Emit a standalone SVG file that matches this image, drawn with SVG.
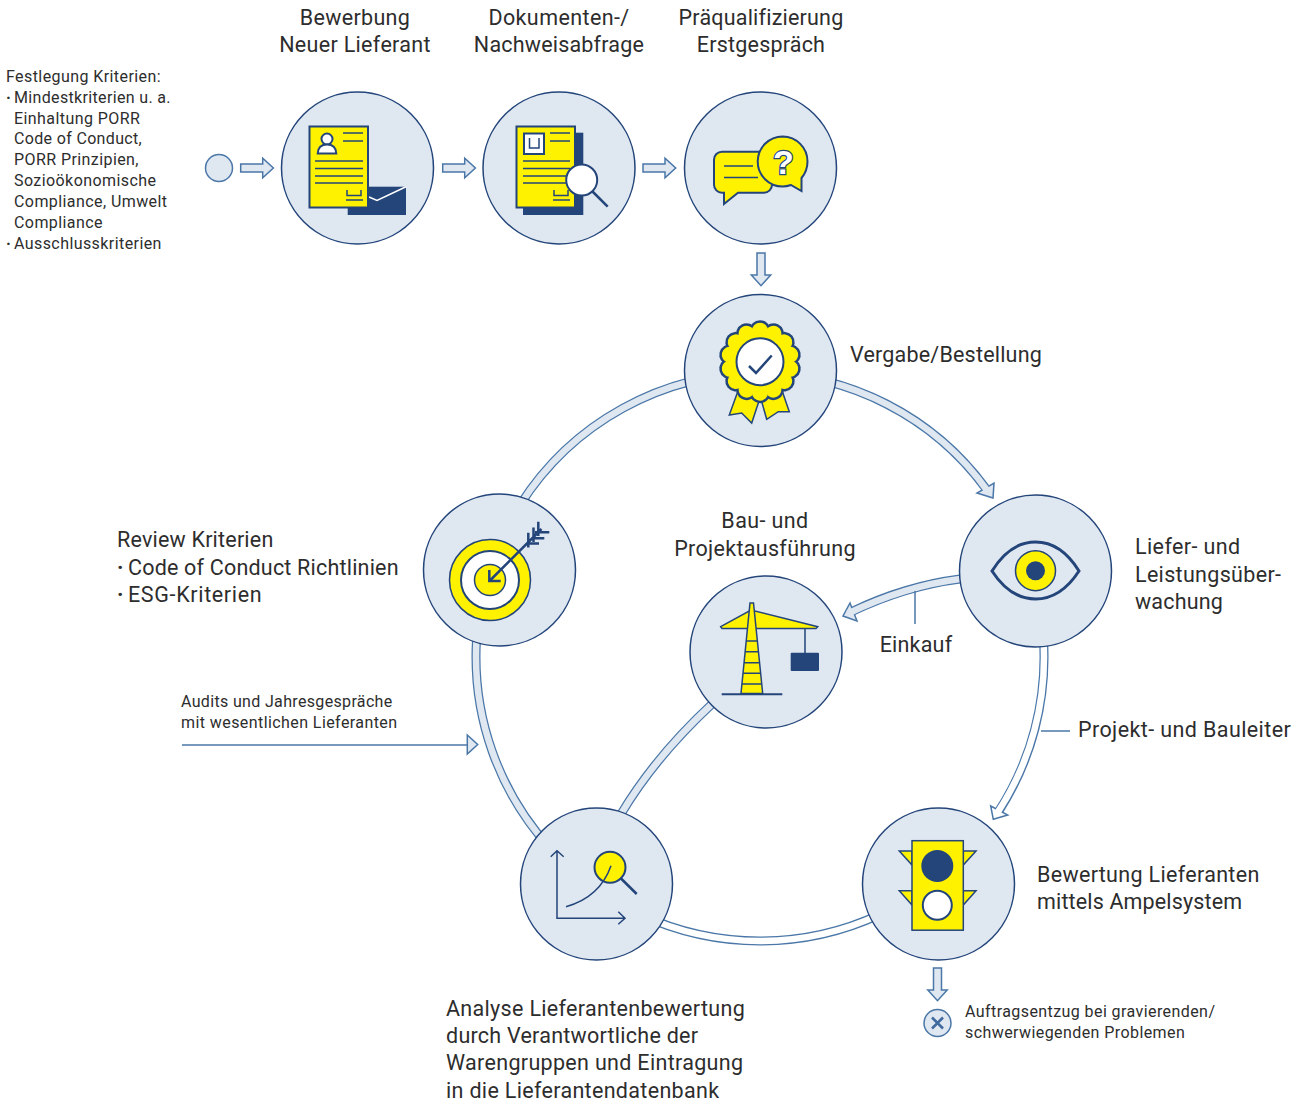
<svg xmlns="http://www.w3.org/2000/svg" xmlns:xlink="http://www.w3.org/1999/xlink" width="1301" height="1104" viewBox="0 0 1301 1104">
<style>
text{font-family:Roboto,"Liberation Sans",sans-serif;fill:#2d2d2d}
.l{font-size:21.5px;letter-spacing:.2px}
.l2{letter-spacing:.32px}
.s{font-size:16px;letter-spacing:.42px}
.m{text-anchor:middle}
.b{font-weight:700}
.node{fill:#dfe7f1;stroke:#23457a;stroke-width:1.5}
.bo{fill:none;stroke:#4a77a8;stroke-width:9}
.bi{fill:none;stroke:#dfe7f1;stroke-width:6.5}
.bw{fill:none;stroke:#fff;stroke-width:6.5}
.hl{fill:#dfe7f1;stroke:#4a77a8;stroke-width:1.5;stroke-linejoin:miter}
.hw{fill:#fff;stroke:#4a77a8;stroke-width:1.5}
.thin{fill:none;stroke:#4a77a8;stroke-width:1.5}
.y{fill:#fff200;stroke:#23457a;stroke-width:2}
.y1{fill:#fff200;stroke:#23457a;stroke-width:1.5}
.w{fill:#fff;stroke:#23457a;stroke-width:2}
.n{fill:#23457a}
.ln{fill:none;stroke:#23457a;stroke-width:1.5}
</style>
<defs>
<path id="sa" class="hl" d="M0,-4 H22 V-9.7 L32.7,0 L22,9.7 V4 H0 Z"/>
<circle id="sc" cx="0" cy="-31" r="8"/>
</defs>
<g id="connectors">
<use xlink:href="#sa" href="#sa" transform="translate(240.7,168)"/>
<use xlink:href="#sa" href="#sa" transform="translate(442.7,168)"/>
<use xlink:href="#sa" href="#sa" transform="translate(643,168)"/>
<use xlink:href="#sa" href="#sa" transform="translate(761,253) rotate(90)"/>
<use xlink:href="#sa" href="#sa" transform="translate(937.5,968) rotate(90)"/>

<path class="bo" d="M760,373 A283,283 0 0 1 985.5,488"/>
<polygon class="hl" points="993,498 977,493 994,483"/>
<path class="bi" d="M760,373 A283,283 0 0 1 988,491.5"/>

<path class="bo" d="M1043.5,640 A284,284 0 0 1 999.2,810.5"/>
<polygon class="hw" points="993.3,819.3 990.7,806 1007.7,815"/>
<path class="bw" d="M1043.5,640 A284,284 0 0 1 997,813.5"/>

<path class="bo" d="M880,914.4 A284,284 0 0 1 640,914.4"/>
<path class="bw" d="M880,914.4 A284,284 0 0 1 640,914.4"/>

<path class="bo" d="M550,848 A284,284 0 0 1 476.5,640"/>
<path class="bi" d="M550,848 A284,284 0 0 1 476.5,640"/>

<path class="bo" d="M520,505 A284,284 0 0 1 760,373"/>
<path class="bi" d="M520,505 A284,284 0 0 1 760,373"/>

<path class="bo" d="M960,579 Q905,586 852,611.5"/>
<polygon class="hl" points="843,616 850,603 857,621"/>
<path class="bi" d="M960,579 Q905,586 848,613.5"/>

<path class="bo" d="M712,704 Q655,757 621,814"/>
<path class="bi" d="M712,704 Q655,757 621,814"/>

<path class="thin" d="M915,591 V624"/>
<path class="thin" d="M1041,731 H1070"/>
<path class="thin" d="M182,745 H467"/>
<polygon class="hl" points="467.3,735 477.7,744.5 467.3,754"/>
</g>

<g id="start"><circle cx="219" cy="168" r="13.5" fill="#dfe7f1" stroke="#4a77a8" stroke-width="1.5"/></g>

<g id="node-bewerbung">
<circle class="node" cx="357.5" cy="168" r="76"/>
<rect class="n" x="347.7" y="186.7" width="58.3" height="28.3"/>
<path d="M369,197 L377,200.5 L406,186.7" fill="none" stroke="#fff" stroke-width="1.5"/>
<rect class="y" x="309.5" y="126.5" width="58.5" height="81" stroke-width="2.5"/>
<circle class="w" cx="327" cy="139" r="5.5" stroke-width="1.5"/>
<path class="w" stroke-width="1.5" d="M317.7,153.5 C318,147 322,144.5 327,144.5 C332,144.5 336,147 336.3,153.5 Z"/>
<path class="ln" d="M343,133 H363 M343,141 H363 M315,161 H363 M315,168.5 H363 M315,176 H363 M315,183 H363 M347,190 V195.5 H361 V190 M346,200 H363"/>
</g>

<g id="node-dokumente">
<circle class="node" cx="559" cy="168" r="76"/>
<rect class="n" x="523" y="132.7" width="60.3" height="82.3"/>
<rect class="y" x="516.5" y="126.5" width="58.5" height="81" stroke-width="2.5"/>
<rect class="w" x="524" y="133.5" width="20" height="20.5" stroke-width="1.5"/>
<path class="ln" d="M529.5,138 V148 H539 V138 M550,133 H570 M550,141 H570 M523,161 H570 M523,168.5 H570 M523,176 H570 M523,183 H570 M554,190 V195.5 H568 V190 M553,200 H570"/>
<path d="M592,191 L607.7,206.7" stroke="#23457a" stroke-width="2.5" fill="none"/>
<circle class="w" cx="581.7" cy="180" r="15.5" stroke-width="3"/>
</g>

<g id="node-praequalifizierung">
<circle class="node" cx="760.5" cy="168" r="76"/>
<path class="y" d="M722,151.7 H764 A8,8 0 0 1 772,159.7 V184.7 A8,8 0 0 1 764,192.7 H738 L724,204 V192.7 H722 A8,8 0 0 1 714,184.7 V159.7 A8,8 0 0 1 722,151.7 Z"/>
<path class="ln" d="M724,166 H753 M724,177.5 H758"/>
<path class="y" stroke-width="3" d="M782.7,136.5 A25,25 0 0 1 807.5,161.5 C807.5,170 804,175 801.5,178 V191 L791,185 C788,186 785.5,186.5 782.7,186.5 A25,25 0 0 1 782.7,136.5 Z"/>
<text x="783.5" y="174" text-anchor="middle" style="font:700 34px 'Liberation Sans',sans-serif;fill:#fff;stroke:#23457a;stroke-width:2.4;paint-order:stroke">?</text>
</g>

<g id="node-vergabe">
<circle class="node" cx="760.5" cy="370.5" r="76"/>
<polygon class="y1" stroke-width="1" points="729.3,415 738,391 759,401 751.7,423 741.7,413"/>
<polygon class="y1" stroke-width="1" points="761.7,401.7 781.7,389.7 789.3,411.7 778.3,411.7 766.7,419.3"/>
<g transform="translate(760,361.7)" fill="#fff200" stroke="#23457a" stroke-width="5">
<g id="scallops"><use href="#sc" xlink:href="#sc"/><use href="#sc" xlink:href="#sc" transform="rotate(25.7)"/><use href="#sc" xlink:href="#sc" transform="rotate(51.4)"/><use href="#sc" xlink:href="#sc" transform="rotate(77.1)"/><use href="#sc" xlink:href="#sc" transform="rotate(102.9)"/><use href="#sc" xlink:href="#sc" transform="rotate(128.6)"/><use href="#sc" xlink:href="#sc" transform="rotate(154.3)"/><use href="#sc" xlink:href="#sc" transform="rotate(180)"/><use href="#sc" xlink:href="#sc" transform="rotate(205.7)"/><use href="#sc" xlink:href="#sc" transform="rotate(231.4)"/><use href="#sc" xlink:href="#sc" transform="rotate(257.1)"/><use href="#sc" xlink:href="#sc" transform="rotate(282.9)"/><use href="#sc" xlink:href="#sc" transform="rotate(308.6)"/><use href="#sc" xlink:href="#sc" transform="rotate(334.3)"/></g>
<g stroke="none"><use href="#sc" xlink:href="#sc"/><use href="#sc" xlink:href="#sc" transform="rotate(25.7)"/><use href="#sc" xlink:href="#sc" transform="rotate(51.4)"/><use href="#sc" xlink:href="#sc" transform="rotate(77.1)"/><use href="#sc" xlink:href="#sc" transform="rotate(102.9)"/><use href="#sc" xlink:href="#sc" transform="rotate(128.6)"/><use href="#sc" xlink:href="#sc" transform="rotate(154.3)"/><use href="#sc" xlink:href="#sc" transform="rotate(180)"/><use href="#sc" xlink:href="#sc" transform="rotate(205.7)"/><use href="#sc" xlink:href="#sc" transform="rotate(231.4)"/><use href="#sc" xlink:href="#sc" transform="rotate(257.1)"/><use href="#sc" xlink:href="#sc" transform="rotate(282.9)"/><use href="#sc" xlink:href="#sc" transform="rotate(308.6)"/><use href="#sc" xlink:href="#sc" transform="rotate(334.3)"/><circle r="32"/></g>
</g>
<circle class="w" cx="760" cy="361.7" r="23.5" stroke-width="1.5"/>
<path d="M749,366 L756,373 L771.7,355.5" fill="none" stroke="#23457a" stroke-width="2.5"/>
</g>

<g id="node-lieferueberwachung">
<circle class="node" cx="1035.5" cy="571" r="76"/>
<path d="M992,571 C1005,550 1020,542 1035.5,542 C1051,542 1066,550 1079,571 C1066,591 1051,599 1035.5,599 C1020,599 1005,591 992,571 Z" fill="#dfe7f1" stroke="#23457a" stroke-width="3"/>
<circle class="y1" cx="1035.5" cy="570.7" r="20"/>
<circle class="n" cx="1035.5" cy="570.7" r="9.5"/>
</g>

<g id="node-bauausfuehrung">
<circle class="node" cx="766" cy="652" r="76"/>
<polygon class="y1" points="720.7,626.7 751,610 817.7,626.7 816,628.5 722,628.5"/>
<polygon class="y1" points="750,603 753.5,603 762.7,693.5 741,693.5"/>
<path class="ln" d="M746.5,641 H757 M745.5,651.7 H758.5 M744,662.7 H759.5 M743,673.3 H760.5 M742,684 H761.5 M805,628 V653"/>
<rect class="n" x="790.7" y="652.7" width="28.3" height="18.3" rx="1"/>
<path d="M721.7,694.3 H782.3" stroke="#23457a" stroke-width="2" fill="none"/>
</g>

<g id="node-review">
<circle class="node" cx="499.5" cy="570" r="76"/>
<circle class="y1" cx="490" cy="580" r="40.5"/>
<circle class="w" cx="490" cy="580" r="29" stroke-width="1.5"/>
<circle class="y1" cx="490" cy="580" r="15.5"/>
<path d="M489.5,581 L541.5,529 M489.3,570 V581 H500.7 M528.3,532.7 V547.5 M528.3,543.5 H539 M533.5,527.5 V542 M532,538.3 H544.3 M538.3,521.7 V536 M535,532.3 H549.3" fill="none" stroke="#23457a" stroke-width="2.5"/>
</g>

<g id="node-analyse">
<circle class="node" cx="596.5" cy="884" r="76"/>
<circle class="y" cx="610" cy="867.3" r="15.5" stroke-width="3"/>
<path d="M621,878.5 L636.7,894" fill="none" stroke="#23457a" stroke-width="2.5"/>
<path class="ln" d="M566,906.7 Q600,897 611,865.7 M557,851 V918.3 H625 M550.7,856.7 L557,850.7 L563.7,856.7 M618.3,911.7 L625,918.3 L618.3,924.3"/>
</g>

<g id="node-bewertung">
<circle class="node" cx="938.5" cy="884" r="76"/>
<polygon class="y1" points="899.3,851 912,851 912,865"/>
<polygon class="y1" points="963.3,851 976,851 963.3,865"/>
<polygon class="y1" points="899.3,890.7 912,890.7 912,905"/>
<polygon class="y1" points="963.3,890.7 976,890.7 963.3,905"/>
<rect class="y1" x="912" y="840.7" width="51.3" height="89.5"/>
<circle class="n" cx="937.3" cy="866" r="16"/>
<circle class="w" cx="937.3" cy="905.3" r="14.5" stroke-width="3"/>
</g>

<g id="end"><circle cx="937.5" cy="1023" r="13.5" fill="#dfe7f1" stroke="#4a77a8" stroke-width="1.5"/>
<path d="M932,1017.5 L943,1028.5 M943,1017.5 L932,1028.5" stroke="#3f6a9f" stroke-width="2.5" fill="none"/></g>

<g id="labels">
<text class="l m l2" x="355" y="25">Bewerbung</text><text class="l m l2" x="355" y="52">Neuer Lieferant</text>
<text class="l m" x="559" y="25" style="letter-spacing:.4px">Dokumenten-/</text><text class="l m" x="559" y="52">Nachweisabfrage</text>
<text class="l m" x="761" y="25">Präqualifizierung</text><text class="l m" x="761" y="52">Erstgespräch</text>
<text class="l" x="850" y="362">Vergabe/Bestellung</text>
<text class="l" x="117" y="547">Review Kriterien</text><text class="l" x="117" y="575"><tspan class="b">·</tspan><tspan x="128">Code of Conduct Richtlinien</tspan></text><text class="l" x="117" y="602" style="letter-spacing:.65px"><tspan class="b">·</tspan><tspan x="128">ESG-Kriterien</tspan></text>
<text class="l m" x="765" y="528" style="letter-spacing:.4px">Bau- und</text><text class="l m l2" x="765" y="556">Projektausführung</text>
<text class="l m" x="916" y="652">Einkauf</text>
<text class="l" x="1135" y="554" style="letter-spacing:.4px">Liefer- und</text><text class="l l2" x="1135" y="582">Leistungsüber-</text><text class="l" x="1135" y="609">wachung</text>
<text class="l" x="1078" y="737" style="letter-spacing:.4px">Projekt- und Bauleiter</text>
<text class="l l2" x="1037" y="882">Bewertung Lieferanten</text><text class="l" x="1037" y="909" style="letter-spacing:.15px">mittels Ampelsystem</text>
<text class="l l2" x="446" y="1016">Analyse Lieferantenbewertung</text><text class="l" x="446" y="1043" style="letter-spacing:.25px">durch Verantwortliche der</text><text class="l l2" x="446" y="1070">Warengruppen und Eintragung</text><text class="l l2" x="446" y="1098">in die Lieferantendatenbank</text>
<text class="s" x="181" y="707" style="letter-spacing:.34px">Audits und Jahresgespräche</text><text class="s" x="181" y="728">mit wesentlichen Lieferanten</text>
<text class="s" x="965" y="1017">Auftragsentzug bei gravierenden/</text><text class="s" x="965" y="1038">schwerwiegenden Problemen</text>
<text class="s" x="6" y="82">Festlegung Kriterien:</text>
<text class="s" x="6" y="103" style="letter-spacing:.34px"><tspan class="b">·</tspan><tspan x="14">Mindestkriterien u. a.</tspan></text>
<text class="s" x="14" y="124">Einhaltung PORR</text><text class="s" x="14" y="144" style="letter-spacing:.34px">Code of Conduct,</text><text class="s" x="14" y="165">PORR Prinzipien,</text><text class="s" x="14" y="186">Sozioökonomische</text><text class="s" x="14" y="207">Compliance, Umwelt</text><text class="s" x="14" y="228">Compliance</text>
<text class="s" x="6" y="249"><tspan class="b">·</tspan><tspan x="14">Ausschlusskriterien</tspan></text>
</g>
</svg>
